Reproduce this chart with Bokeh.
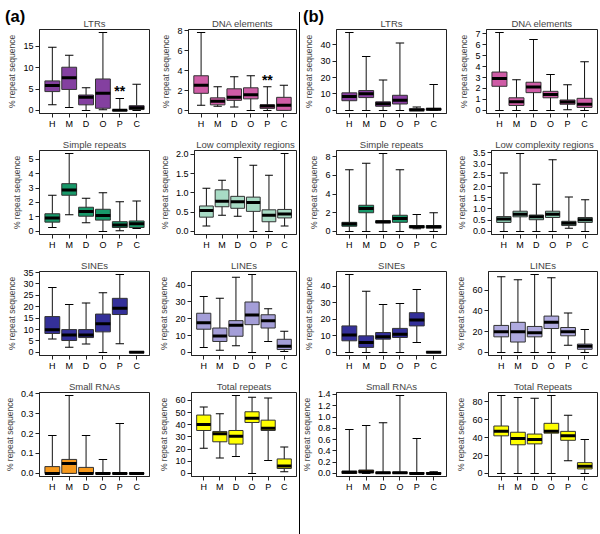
from bokeh.plotting import figure
from bokeh.models import FactorRange, Range1d, FixedTicker, PrintfTickFormatter, Div
from bokeh.layouts import row, column
from bokeh.embed import file_html
from bokeh.resources import INLINE
from bokeh.core.properties import value

cats = ["H", "M", "D", "O", "P", "C"]

# ---- panel (a) ----
a_ltrs = {"lo": [1.3, 0.7, 0, 0.15, 0, 0], "q1": [4.4, 4.9, 1.3, 0.5, 0, 0.2],
          "med": [5.8, 7.65, 3.1, 4.0, 0.05, 0.6], "q3": [6.9, 10.1, 3.6, 7.35, 0.1, 1.1],
          "hi": [14.8, 12.9, 5.3, 18.2, 2.8, 6.1]}
a_dna = {"lo": [0.55, 0.45, 0.4, 0.05, 0.05, 0.05], "q1": [1.75, 0.6, 1.05, 1.2, 0.25, 0.05],
         "med": [2.55, 0.95, 1.35, 1.6, 0.48, 0.55], "q3": [3.5, 1.3, 2.2, 2.3, 0.6, 1.35],
         "hi": [7.8, 2.4, 3.4, 3.5, 2.4, 2.55]}
a_simple = {"lo": [0.27, 1.15, 0.6, 0.0, 0.05, 0.2], "q1": [0.64, 2.5, 1.05, 0.78, 0.27, 0.27],
            "med": [0.93, 2.87, 1.38, 1.1, 0.45, 0.53], "q3": [1.22, 3.3, 1.67, 1.53, 0.67, 0.72],
            "hi": [2.5, 5.38, 2.3, 2.68, 2.05, 2.1]}
a_low = {"lo": [0.14, 0.42, 0.39, 0, 0, 0.14], "q1": [0.37, 0.64, 0.6, 0.52, 0.25, 0.35],
         "med": [0.54, 0.78, 0.77, 0.75, 0.42, 0.45], "q3": [0.66, 1.08, 0.91, 0.89, 0.56, 0.57],
         "hi": [1.12, 1.33, 1.92, 1.72, 1.46, 2.02]}
a_sines = {"lo": [5.9, 2.25, 3.7, 0, 3.8, 0], "q1": [8.3, 5.2, 6.5, 9, 16.6, 0],
           "med": [9.9, 7.6, 7.6, 12.55, 19.3, 0.1], "q3": [15.7, 10, 10, 16.8, 23.7, 0.3],
           "hi": [28.5, 21, 21.7, 26.2, 34.1, 0.3]}
a_lines = {"lo": [2.9, 1.3, 4, 0, 6.5, 0.6], "q1": [13.8, 6.5, 9.6, 16.5, 14.5, 1.7],
           "med": [17.6, 9.8, 16.1, 22.2, 18.9, 3.6], "q3": [23.3, 14.5, 18.9, 30, 22.4, 7.8],
           "hi": [33.3, 32.3, 44.8, 46.3, 26, 12.6]}
a_small = {"lo": [0, 0, 0, 0, 0, 0], "q1": [0, 0, 0, 0, 0, 0],
           "med": [0, 0.05, 0, 0, 0, 0], "q3": [0.034, 0.07, 0.03, 0.003, 0.002, 0.002],
           "hi": [0.19, 0.39, 0.19, 0.07, 0.25, 0.003]}
a_total = {"lo": [20.7, 12.7, 14, 0, 10.6, 1.3], "q1": [35.3, 26, 24.1, 41.9, 35.3, 4],
           "med": [40.3, 32.6, 30.5, 45.4, 37.1, 6.1], "q3": [48, 34.5, 35.3, 50.7, 43.8, 11.9],
           "hi": [54.6, 49, 64, 62.6, 62, 21.7]}

# ---- panel (b) ----
b_ltrs = {"lo": [0, 0, 0, 0, 0, 0], "q1": [5.9, 7.8, 2.5, 3.9, 0, 0.2],
          "med": [8.4, 10.1, 4, 6.2, 0.3, 0.7], "q3": [10.7, 12.1, 5.2, 9.2, 1, 1.2],
          "hi": [47.4, 32.8, 18.5, 41, 2, 15.8]}
b_dna = {"lo": [0, 0, 0, 0, 0.05, 0], "q1": [2.2, 0.45, 1.62, 1.15, 0.56, 0.27],
         "med": [2.9, 0.8, 2.13, 1.45, 0.77, 0.56], "q3": [3.5, 1.15, 2.57, 1.74, 0.95, 1.1],
         "hi": [7.1, 2.8, 6.47, 3.28, 2.33, 4.43]}
b_simple = {"lo": [0, 0, 0, 0, 0.28, 0], "q1": [0.55, 2.0, 0.9, 0.97, 0.38, 0.35],
            "med": [0.8, 2.45, 1.04, 1.38, 0.5, 0.5], "q3": [0.97, 2.8, 1.14, 1.73, 0.62, 0.62],
            "hi": [6.6, 7.3, 8.34, 6.6, 1.8, 2.0]}
b_low = {"lo": [0, 0, 0, 0, 0.14, 0], "q1": [0.4, 0.65, 0.52, 0.62, 0.26, 0.4],
         "med": [0.55, 0.76, 0.65, 0.76, 0.36, 0.52], "q3": [0.66, 0.9, 0.73, 0.9, 0.45, 0.62],
         "hi": [2.6, 3.47, 2.1, 3.2, 1.53, 1.41]}
b_sines = {"lo": [0, 0, 0, 0, 6, 0], "q1": [7, 3, 8, 9, 16, 0],
           "med": [10.5, 6, 9.5, 11, 19.5, 0.1], "q3": [16, 10, 12, 14.5, 24, 0.4],
           "hi": [47, 37, 29, 29.5, 38, 0.5]}
b_lines = {"lo": [0, 0, 0, 0, 7, 0], "q1": [15, 10, 15, 23, 16, 3],
           "med": [20, 20, 19, 29, 20, 6], "q3": [26, 29, 25, 35, 24, 8],
           "hi": [73, 70, 75, 72, 38, 22]}
b_small = {"lo": [0, 0, 0, 0, 0, 0], "q1": [0, 0.01, 0, 0, 0, 0],
           "med": [0.02, 0.03, 0.01, 0.01, 0.0, 0.0], "q3": [0.04, 0.06, 0.02, 0.02, 0.01, 0.01],
           "hi": [0.78, 0.85, 0.9, 1.38, 0.62, 0.03]}
b_total = {"lo": [0, 0, 0, 0, 14, 0], "q1": [42, 32, 33, 45, 37, 5],
           "med": [47, 39, 38, 47, 42, 8], "q3": [53, 46, 44, 56, 47, 12],
           "hi": [87, 85, 84, 87, 65, 38]}

FONT = "Liberation Sans"


def panel(title, d, color, ticks, fmt, width, left, right, height, top, stars=False):
    lo, q1, med, q3, hi = d["lo"], d["q1"], d["med"], d["q3"], d["hi"]
    ymin, ymax = min(lo), max(hi)
    span = ymax - ymin
    p = figure(x_range=FactorRange(factors=cats, range_padding=0.087),
               y_range=Range1d(ymin - 0.04 * span, ymax + 0.04 * span),
               width=width, height=height, output_backend="svg", toolbar_location=None,
               min_border_left=left, min_border_right=right,
               min_border_top=top, min_border_bottom=16, title=title)
    p.title.align = "center"
    p.title.text_font = FONT
    p.title.text_font_size = "9.5px"
    p.title.text_font_style = "normal"
    p.title.standoff = 2
    p.outline_line_color = "#222222"
    p.outline_line_width = 1
    p.outline_line_alpha = 1
    p.xgrid.visible = False
    p.ygrid.visible = False
    p.background_fill_color = "white"
    p.border_fill_color = None
    for ax in (p.xaxis[0], p.yaxis[0]):
        ax.axis_line_color = "#222222"
        ax.major_tick_line_color = "#222222"
        ax.major_tick_in = 0
        ax.major_tick_out = 4
        ax.minor_tick_line_color = None
        ax.major_label_text_font = FONT
        ax.major_label_text_font_size = "9px"
        ax.major_label_text_color = "black"
        ax.major_label_standoff = 2
    p.xaxis[0].major_label_standoff = 1
    p.yaxis[0].ticker = FixedTicker(ticks=ticks)
    p.yaxis[0].formatter = PrintfTickFormatter(format=fmt)
    p.yaxis[0].axis_label = "% repeat sequence"
    p.yaxis[0].axis_label_text_font = FONT
    p.yaxis[0].axis_label_text_font_size = "8.5px"
    p.yaxis[0].axis_label_text_font_style = "normal"
    p.yaxis[0].axis_label_standoff = 3

    p.segment(x0=cats, y0=lo, x1=cats, y1=hi, line_color="#111111", line_width=1)
    p.rect(x=cats, y=hi, width=0.5, height=1, height_units="screen",
           fill_color="black", line_color=None)
    p.rect(x=cats, y=lo, width=0.5, height=1, height_units="screen",
           fill_color="black", line_color=None)
    p.vbar(x=cats, bottom=q1, top=q3, width=0.88, fill_color=color,
           line_color="#333333", line_width=1)
    p.rect(x=cats, y=med, width=0.88, height=3, height_units="screen",
           fill_color="black", line_color=None)
    if stars:
        p.text(x=["P"], y=[hi[4] + 0.09 * span], text=["**"], text_align="center",
               text_baseline="middle", text_font=value(FONT), text_font_size="14px",
               text_font_style="bold", text_color="black")
    return p


def ticks_range(a, b, s):
    out = []
    v = a
    while v <= b + 1e-9:
        out.append(round(v, 3))
        v += s
    return out


# column geometry (left border, right border, width)
GA1 = (39, 7, 156)
GA2 = (32, 2, 142)
GB1 = (38, 7, 155)
GB2 = (33, 3, 147)
# row geometry (height, top border)
R1 = (131, 29)
RN = (121, 19)
rows_geo = [R1, RN, RN, RN]

spec_a = [
    [("LTRs", a_ltrs, "#8440A0", [0, 5, 10, 15], "%d", True),
     ("DNA elements", a_dna, "#CF5CA6", [0, 2, 4, 6, 8], "%d", True)],
    [("Simple repeats", a_simple, "#18996A", [0, 1, 2, 3, 4, 5], "%d", False),
     ("Low complexity regions", a_low, "#A8DBC5", ticks_range(0, 2, 0.5), "%.1f", False)],
    [("SINEs", a_sines, "#34309A", ticks_range(0, 35, 5), "%d", False),
     ("LINEs", a_lines, "#A49ED8", [0, 10, 20, 30, 40], "%d", False)],
    [("Small RNAs", a_small, "#F7991C", ticks_range(0, 0.4, 0.1), "%.1f", False),
     ("Total repeats", a_total, "#FFFF00", ticks_range(0, 60, 10), "%d", False)],
]
spec_b = [
    [("LTRs", b_ltrs, "#8B3FA3", [0, 10, 20, 30, 40], "%d", False),
     ("DNA elements", b_dna, "#CF5CA6", ticks_range(0, 7, 1), "%d", False)],
    [("Simple repeats", b_simple, "#18996A", [0, 2, 4, 6, 8], "%d", False),
     ("Low complexity regions", b_low, "#8CCDB3", ticks_range(0, 3.5, 0.5), "%.1f", False)],
    [("SINEs", b_sines, "#34309A", [0, 10, 20, 30, 40], "%d", False),
     ("LINEs", b_lines, "#AFAADF", [0, 20, 40, 60], "%d", False)],
    [("Small RNAs", b_small, "#F7991C", ticks_range(0, 1.4, 0.2), "%.1f", False),
     ("Total Repeats", b_total, "#FFFF00", ticks_range(0, 80, 20), "%d", False)],
]


def build(spec, g1, g2, extra=None):
    rws = []
    for (s1, s2), (h, t) in zip(spec, rows_geo):
        f1 = panel(s1[0], s1[1], s1[2], s1[3], s1[4], g1[2], g1[0], g1[1], h, t, s1[5])
        f2 = panel(s2[0], s2[1], s2[2], s2[3], s2[4], g2[2], g2[0], g2[1], h, t, s2[5])
        rws.append(row(f1, f2))
    if extra is not None:
        rws.append(extra)
    return column(*rws)


# overlay: panel letters and the vertical separator (positioned from the bottom strip)
TOTAL_H = R1[0] + 3 * RN[0]
lab = ("position:absolute;font-family:'Liberation Sans';font-weight:bold;font-size:16.5px;"
       "color:#000;white-space:nowrap;z-index:10;")
overlay = Div(text=(
    '<div style="position:relative;width:10px;height:10px;overflow:visible">'
    f'<div style="position:absolute;left:294px;top:{5 - TOTAL_H}px;width:1px;height:524px;background:#000"></div>'
    f'<div style="{lab}left:0px;top:{-2 - TOTAL_H}px">(a)</div>'
    f'<div style="{lab}left:298px;top:{-2 - TOTAL_H}px">(b)</div>'
    '</div>'), width=10, height=10, styles={"overflow": "visible", "z-index": "10"})

col_a = build(spec_a, GA1, GA2, overlay)
col_b = build(spec_b, GB1, GB2)

layout = row(col_a, col_b)

with open("out.html", "w") as f:
    f.write(file_html(layout, INLINE))
